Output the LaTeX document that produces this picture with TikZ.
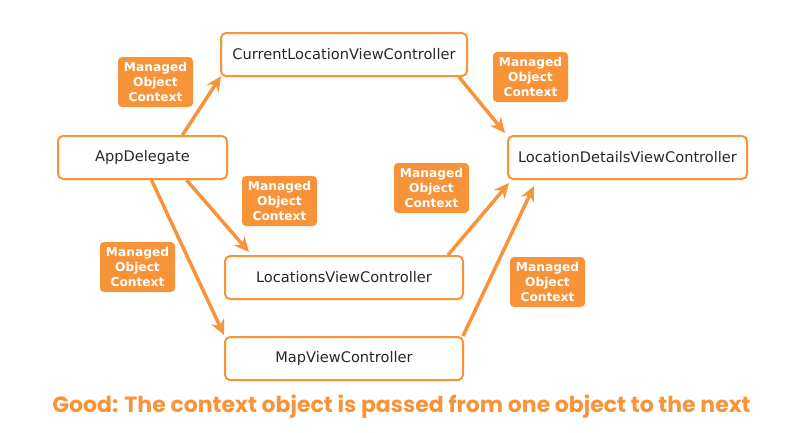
\documentclass[tikz,border=0pt]{standalone}
\usepackage{fontspec}
\setmainfont{DejaVu Sans}
\newfontfamily\captionfont{Poppins}
\usepackage{tikz}
\usetikzlibrary{arrows.meta,positioning,calc}

\definecolor{mocorange}{RGB}{247,148,58}
\definecolor{boxtext}{RGB}{40,40,40}

\begin{document}
\begin{tikzpicture}[
    x=1pt, y=-1pt,
    vcbox/.style={draw=mocorange, line width=2pt, rounded corners=5pt, fill=white,
      text=boxtext, minimum height=43pt, inner sep=0pt, font=\fontsize{14.6}{16}\selectfont},
    moc/.style={fill=mocorange, rounded corners=4pt, text=white, align=center,
      minimum width=75pt, minimum height=50pt, inner sep=0pt,
      font=\bfseries\fontsize{12.2}{14.7}\selectfont},
    arrow/.style={-{Stealth[length=15pt,width=14pt]}, line width=3.5pt, draw=mocorange}
]
  \useasboundingbox (0,0) rectangle (797,432);

  % View controllers
  \node[vcbox, minimum width=246pt] (cur) at (344,54.5) {CurrentLocationViewController};
  \node[vcbox, minimum width=169pt] (app) at (142.5,157.5) {AppDelegate};
  \node[vcbox, minimum width=239pt] (det) at (627.5,157.5) {LocationDetailsViewController};
  \node[vcbox, minimum width=238pt, below=178pt of cur] (locs) {LocationsViewController};
  \node[vcbox, minimum width=238pt, below=36pt of locs] (map) {MapViewController};

  % Context labels
  \node[moc] (moc1) at (155.5,82) {Managed\\Object\\Context};
  \node[moc] (moc2) at (530.5,77) {Managed\\Object\\Context};
  \node[moc] (moc3) at (279.5,201) {Managed\\Object\\Context};
  \node[moc] (moc4) at (137.5,267) {Managed\\Object\\Context};
  \node[moc] (moc5) at (431.5,188) {Managed\\Object\\Context};
  \node[moc] (moc6) at (547.5,282) {Managed\\Object\\Context};

  % Passing the context along
  \draw[arrow] ([xshift=40pt]app.north) -- ([xshift=1pt,yshift=1pt]cur.south west);
  \draw[arrow] ([xshift=-9pt]cur.south east) -- ([xshift=-2pt,yshift=2pt]det.north west);
  \draw[arrow] ([xshift=44pt]app.south) -- ([xshift=25pt,yshift=3pt]locs.north west);
  \draw[arrow] ([xshift=9pt]app.south) -- ([yshift=1pt]map.north west);
  \draw[arrow] ([xshift=-16pt]locs.north east) -- ([xshift=2pt,yshift=-3pt]det.south west);
  \draw[arrow] ([xshift=-1pt]map.north east) -- ([xshift=27pt,yshift=-6pt]det.south west);

  % Caption
  \node[text=mocorange, anchor=base, inner sep=0pt,
    font=\captionfont\bfseries\fontsize{22}{26}\selectfont] (caption) at (401.5,412)
    {Good: The context object is passed from one object to the next};
\end{tikzpicture}
\end{document}
